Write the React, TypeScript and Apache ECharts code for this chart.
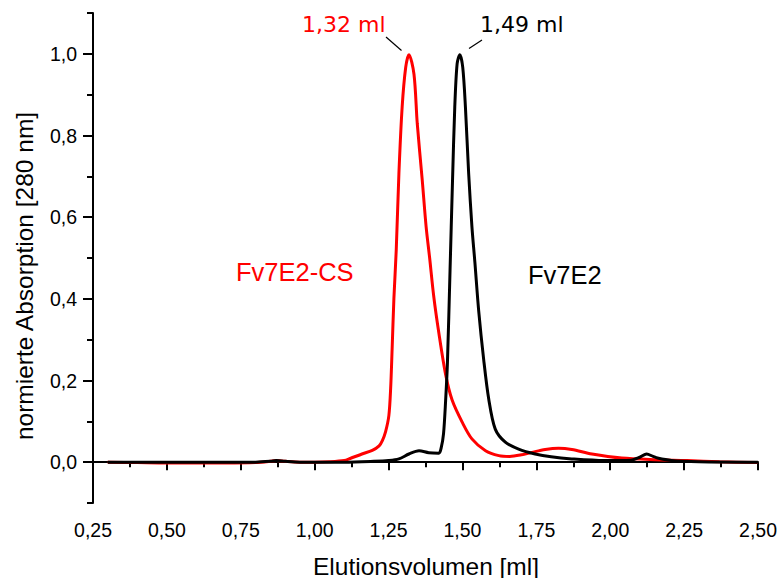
import React, { useEffect, useRef } from "react";
import * as echarts from "echarts";

// Fv7E2-CS (red)
const volRed = [0.30, 0.40, 0.50, 0.60, 0.70, 0.80, 0.85, 0.87, 0.90, 0.95, 1.00, 1.05, 1.10, 1.12, 1.16, 1.195, 1.218, 1.229, 1.240, 1.251, 1.257, 1.262, 1.268, 1.276, 1.285, 1.296, 1.308, 1.319, 1.336, 1.347, 1.364, 1.377, 1.389, 1.403, 1.420, 1.443, 1.465, 1.499, 1.532, 1.578, 1.623, 1.66, 1.70, 1.735, 1.78, 1.825, 1.87, 1.938, 2.039, 2.15, 2.26, 2.37, 2.50];
const absRed = [0.000, -0.001, -0.002, -0.002, -0.002, -0.001, 0.002, 0.004, 0.002, 0.000, 0.000, 0.001, 0.004, 0.009, 0.020, 0.029, 0.040, 0.053, 0.075, 0.114, 0.180, 0.276, 0.400, 0.520, 0.707, 0.870, 0.967, 0.998, 0.950, 0.830, 0.690, 0.577, 0.500, 0.405, 0.317, 0.215, 0.152, 0.098, 0.057, 0.028, 0.016, 0.014, 0.018, 0.024, 0.031, 0.034, 0.031, 0.020, 0.010, 0.006, 0.004, 0.001, -0.001];

// Fv7E2 (black)
const volBlack = [0.30, 0.50, 0.70, 0.80, 0.85, 0.87, 0.90, 0.95, 1.10, 1.20, 1.25, 1.285, 1.319, 1.353, 1.386, 1.420, 1.428, 1.436, 1.443, 1.449, 1.458, 1.466, 1.474, 1.482, 1.491, 1.501, 1.510, 1.521, 1.532, 1.542, 1.555, 1.572, 1.589, 1.611, 1.645, 1.690, 1.746, 1.80, 1.87, 1.98, 2.07, 2.10, 2.123, 2.145, 2.16, 2.207, 2.30, 2.50];
const absBlack = [0.000, 0.000, 0.000, 0.000, 0.002, 0.004, 0.002, 0.000, 0.000, 0.002, 0.004, 0.008, 0.020, 0.028, 0.023, 0.022, 0.035, 0.070, 0.150, 0.240, 0.470, 0.680, 0.870, 0.976, 0.998, 0.967, 0.870, 0.707, 0.577, 0.490, 0.370, 0.250, 0.154, 0.081, 0.049, 0.032, 0.020, 0.013, 0.008, 0.004, 0.005, 0.012, 0.020, 0.014, 0.010, 0.004, 0.001, 0.000];

const yLabelValues = [0.0, 0.2, 0.4, 0.6, 0.8, 1.0];
const peakLabels = ["1,32 ml", "1,49 ml"];
const seriesNames = ["Fv7E2-CS", "Fv7E2"];
const xTitle = "Elutionsvolumen [ml]";
const yTitle = "normierte Absorption [280 nm]";

const ARIAL = "'Liberation Sans', Arial, sans-serif";
const VERDANA = "'DejaVu Sans', Verdana, sans-serif";

export default function App() {
  const ref = useRef<HTMLDivElement>(null);
  useEffect(() => {
    if (!ref.current) return;
    const chart = echarts.init(ref.current, undefined, { renderer: "svg" });
    const comma = (v: number, d: number) => v.toFixed(d).replace(".", ",");
    chart.setOption({
      animation: false,
      backgroundColor: "#ffffff",
      grid: { left: 93, right: 20, top: 13, bottom: 75 },
      xAxis: {
        type: "value",
        min: 0.25,
        max: 2.5,
        interval: 0.25,
        axisLine: { show: true, lineStyle: { color: "#000", width: 2 } },
        axisTick: { show: true, inside: false, length: 8, lineStyle: { color: "#000", width: 2 } },
        minorTick: { show: true, splitNumber: 2, length: 5, lineStyle: { color: "#000", width: 2 } },
        splitLine: { show: false },
        minorSplitLine: { show: false },
        axisLabel: {
          margin: 17,
          fontSize: 19.5,
          fontFamily: ARIAL,
          color: "#000",
          formatter: (v: number) => comma(v, 2),
        },
      },
      yAxis: [
        {
          type: "value",
          position: "left",
          min: -0.1,
          max: 1.1,
          interval: 0.1,
          axisLine: { show: true, onZero: false, lineStyle: { color: "#000", width: 2 } },
          axisTick: { show: true, inside: false, length: 10, customValues: yLabelValues, lineStyle: { color: "#000", width: 2 } },
          splitLine: { show: false },
          axisLabel: {
            margin: 16,
            fontSize: 19.5,
            fontFamily: ARIAL,
            color: "#000",
            customValues: yLabelValues,
            formatter: (v: number) => comma(v, 1),
          },
        },
        {
          type: "value",
          position: "left",
          min: -0.1,
          max: 1.1,
          interval: 0.1,
          axisLine: { show: false },
          axisTick: { show: true, inside: false, length: 6, lineStyle: { color: "#000", width: 2 } },
          splitLine: { show: false },
          axisLabel: { show: false },
        },
      ],
      series: [
        {
          name: seriesNames[0],
          type: "line",
          data: volRed.map((v, i) => [v, absRed[i]]),
          showSymbol: false,
          smooth: 0.3,
          lineStyle: { color: "#ff0000", width: 3 },
          itemStyle: { color: "#ff0000" },
          z: 2,
        },
        {
          name: seriesNames[1],
          type: "line",
          data: volBlack.map((v, i) => [v, absBlack[i]]),
          showSymbol: false,
          smooth: 0.3,
          lineStyle: { color: "#000000", width: 3 },
          itemStyle: { color: "#000000" },
          z: 3,
        },
      ],
      graphic: [
        { type: "text", x: 302, y: 24, style: { text: peakLabels[0], fill: "#ff0000", font: `22px ${VERDANA}`, textAlign: "left", textVerticalAlign: "middle" } },
        { type: "text", x: 480, y: 24, style: { text: peakLabels[1], fill: "#000", font: `22px ${VERDANA}`, textAlign: "left", textVerticalAlign: "middle" } },
        { type: "line", shape: { x1: 386, y1: 37, x2: 401.5, y2: 50.5 }, style: { stroke: "#000", lineWidth: 1.2 } },
        { type: "line", shape: { x1: 482, y1: 40, x2: 469, y2: 48.5 }, style: { stroke: "#000", lineWidth: 1.2 } },
        { type: "text", x: 236, y: 272, style: { text: seriesNames[0], fill: "#ff0000", font: `25.5px ${ARIAL}`, textAlign: "left", textVerticalAlign: "middle" } },
        { type: "text", x: 528, y: 274.5, style: { text: seriesNames[1], fill: "#000", font: `25.5px ${ARIAL}`, textAlign: "left", textVerticalAlign: "middle" } },
        { type: "text", x: 426, y: 566.5, style: { text: xTitle, fill: "#000", font: `24.5px ${ARIAL}`, textAlign: "center", textVerticalAlign: "middle" } },
        { type: "text", x: 24.5, y: 276, rotation: Math.PI / 2, style: { text: yTitle, fill: "#000", font: `24.5px ${ARIAL}`, textAlign: "center", textVerticalAlign: "middle" } },
      ],
    });
    return () => chart.dispose();
  }, []);
  return <div ref={ref} style={{ position: "fixed", left: 0, top: 0, width: 780, height: 578 }} />;
}
